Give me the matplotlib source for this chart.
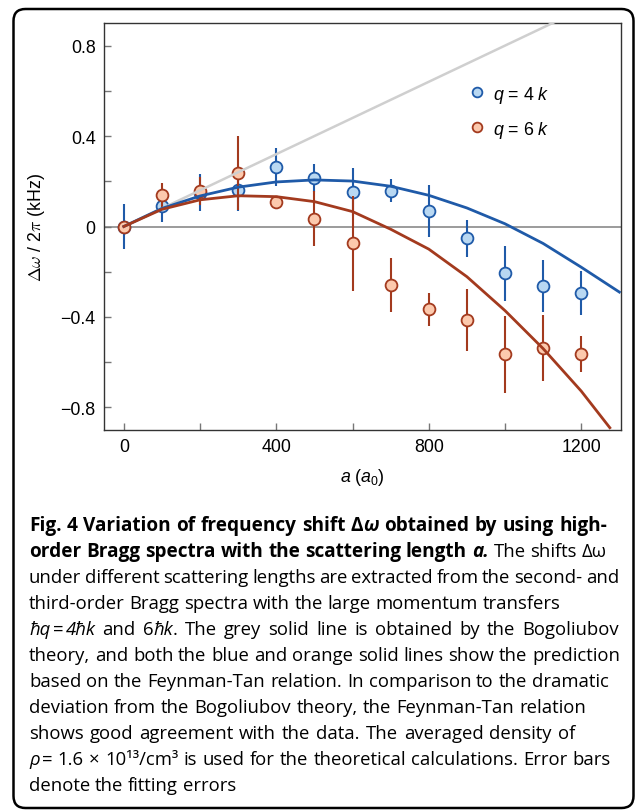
import matplotlib
matplotlib.use("Agg")
import matplotlib.pyplot as plt
from matplotlib.lines import Line2D
from matplotlib.patches import FancyBboxPatch

# measured data, scattering length in units of a0
a_pts = [0, 100, 200, 300, 400, 500, 600, 700, 800, 900, 1000, 1100, 1200]
shift_q4 = [0.0, 0.091, 0.150, 0.163, 0.263, 0.215, 0.153, 0.159, 0.068, -0.053, -0.207, -0.263, -0.293]
err_q4 = [0.10, 0.073, 0.08, 0.095, 0.083, 0.062, 0.107, 0.05, 0.114, 0.08, 0.122, 0.114, 0.098]
shift_q6 = [0.0, 0.138, 0.157, 0.237, 0.109, 0.035, -0.075, -0.259, -0.366, -0.413, -0.565, -0.538, -0.565]
err_q6 = [0.0, 0.055, 0.06, 0.163, 0.01, 0.12, 0.21, 0.12, 0.072, 0.137, 0.17, 0.147, 0.08]

# theory curves
tan_a_q4 = [0, 100, 200, 300, 400, 500, 600, 700, 800, 900, 1000, 1100, 1200, 1300]
tan_q4 = [0.0, 0.08, 0.135, 0.174, 0.197, 0.206, 0.201, 0.178, 0.138, 0.082, 0.012, -0.075, -0.180, -0.290]
tan_a_q6 = [0, 100, 200, 300, 400, 500, 600, 700, 800, 900, 1000, 1100, 1200, 1275]
tan_q6 = [0.0, 0.076, 0.118, 0.136, 0.132, 0.110, 0.066, -0.012, -0.100, -0.222, -0.372, -0.540, -0.728, -0.89]
bogo_a = [0, 1300]
bogo_shift = [0.0, 1.04]

labels = [r"$q$ = 4 $k$", r"$q$ = 6 $k$"]

caption = [
    [("Fig. 4 Variation of frequency shift Δ", "bold", "normal", 0), ("ω", "bold", "italic", 0),
     ("obtained by using high-", "bold", "normal", 1)],
    [("order Bragg spectra with the scattering length", "bold", "normal", 0), ("a.", "bold", "italic", 1),
     ("The shifts Δω", "normal", "normal", 1)],
    [("under different scattering lengths are extracted from the second- and", "normal", "normal", 0)],
    [("third-order Bragg spectra with the large momentum transfers", "normal", "normal", 0)],
    [("ħq", "normal", "italic", 0), ("=", "normal", "normal", 0.5), ("4ħk", "normal", "italic", 0.5),
     ("and 6", "normal", "normal", 1), ("ħk", "normal", "italic", 0),
     (". The grey solid line is obtained by the Bogoliubov", "normal", "normal", 0)],
    [("theory, and both the blue and orange solid lines show the prediction", "normal", "normal", 0)],
    [("based on the Feynman-Tan relation. In comparison to the dramatic", "normal", "normal", 0)],
    [("deviation from the Bogoliubov theory, the Feynman-Tan relation", "normal", "normal", 0)],
    [("shows good agreement with the data. The averaged density of", "normal", "normal", 0)],
    [("ρ", "normal", "italic", 0), ("= 1.6 × 10¹³/cm³ is used for the theoretical calculations. Error bars", "normal", "normal", 0.5)],
    [("denote the fitting errors", "normal", "normal", 0)],
]
# right edge (px) of each caption line in the reference, None = ragged
caption_ends = [607, 607, 619, None, 619, 620, 609, 586, 575, 611, None]

plt.rcParams["font.family"] = ["Liberation Sans", "DejaVu Sans"]
plt.rcParams["mathtext.fontset"] = "custom"
plt.rcParams["mathtext.rm"] = "Liberation Sans"
plt.rcParams["mathtext.it"] = "Liberation Sans:italic"

W, H = 635, 812
fig = plt.figure(figsize=(W / 100, H / 100), dpi=100)

# rounded frame around the whole figure
frame = FancyBboxPatch((0.135, 0.03), 6.2, 7.99, boxstyle="round,pad=0,rounding_size=0.12",
                       transform=fig.dpi_scale_trans, fill=False, ec="black", lw=1.8)
fig.patches.append(frame)

ax = fig.add_axes([104 / W, 1 - 431 / H, 516.5 / W, 407 / H])

blue, blue_fill = "#1f5aa8", "#b9d8f2"
rust, rust_fill = "#a33a1e", "#fcc9ad"

ax.axhline(0, color="#8a8a8a", lw=1.2, zorder=1)

ax.errorbar(a_pts, shift_q4, yerr=err_q4, fmt="o", ms=8.5, mfc=blue_fill, mec=blue, mew=1.3,
            ecolor=blue, elinewidth=1.5, capsize=0, zorder=3)
ax.errorbar(a_pts, shift_q6, yerr=err_q6, fmt="o", ms=8.5, mfc=rust_fill, mec=rust, mew=1.3,
            ecolor=rust, elinewidth=1.5, capsize=0, zorder=4)

ax.plot(bogo_a, bogo_shift, color="#cfcfcf", lw=1.8, zorder=5)
ax.plot(tan_a_q4, tan_q4, color=blue, lw=2, zorder=5)
ax.plot(tan_a_q6, tan_q6, color=rust, lw=2, zorder=5)

ax.set_xlim(-52, 1303)
ax.set_ylim(-0.9, 0.9)
ax.set_xticks([0, 400, 800, 1200])
ax.set_xticks([200, 600, 1000], minor=True)
ax.set_yticks([-0.8, -0.4, 0, 0.4, 0.8])
ax.set_yticklabels(["\u22120.8", "\u22120.4", "0", "0.4", "0.8"])
ax.set_yticks([-0.6, -0.2, 0.2, 0.6], minor=True)
ax.tick_params(which="both", direction="in", length=5, width=1, color="#777777",
               top=False, right=False, labelsize=12.8, pad=6)
for s in ax.spines.values():
    s.set_color("#333333")
    s.set_linewidth(1)

ax.set_xlabel(r"$a$ ($a_0$)", fontsize=12.8, labelpad=8)
ax.set_ylabel(r"$\Delta\omega$ / 2$\pi$ (kHz)", fontsize=12.8, labelpad=10, math_fontfamily="cm")

handles = [Line2D([], [], ls="none", marker="o", ms=7, mfc=blue_fill, mec=blue, mew=1.3),
           Line2D([], [], ls="none", marker="o", ms=7, mfc=rust_fill, mec=rust, mew=1.3)]
ax.legend(handles, labels, loc="upper left", bbox_to_anchor=(0.708, 0.851), frameon=False,
          fontsize=12.8, handlelength=0.8, handletextpad=0.5, labelspacing=0.78, borderpad=0,
          borderaxespad=0)

# caption, drawn word by word so bold / italic can be mixed and lines justified
renderer = fig.canvas.get_renderer()
cap_font = ["Open Sans", "DejaVu Sans"]
cap_size = 13.3
probe = fig.text(0, 0, "a a", fontsize=cap_size, family=cap_font)
probe2 = fig.text(0, 0, "aa", fontsize=cap_size, family=cap_font)
space = probe.get_window_extent(renderer).width - probe2.get_window_extent(renderer).width
probe.remove()
probe2.remove()

y0 = 531
for i, parts in enumerate(caption):
    y = 1 - (y0 + 26 * i) / H
    words = []
    for txt, weight, style, gap in parts:
        for j, w in enumerate(txt.split(" ")):
            g = gap if j == 0 else 1
            size = cap_size * 1.03 if weight == "bold" else cap_size
            t = fig.text(0, y, w, fontsize=size, family=cap_font, fontweight=weight,
                         fontstyle=style, va="baseline", ha="left")
            words.append([t, t.get_window_extent(renderer).width, g])
    natural = 29 + sum(wd + g * space for _, wd, g in words)
    n_sp = sum(1 for _, _, g in words if g == 1)
    extra = 0
    if caption_ends[i] is not None and n_sp > 0:
        extra = max((caption_ends[i] - natural) / n_sp, -0.25 * space)
    x = 29
    for t, wd, g in words:
        x += g * space + (extra if g == 1 else 0)
        t.set_x(x / W)
        x += wd

fig.savefig("out.png", dpi=100)
